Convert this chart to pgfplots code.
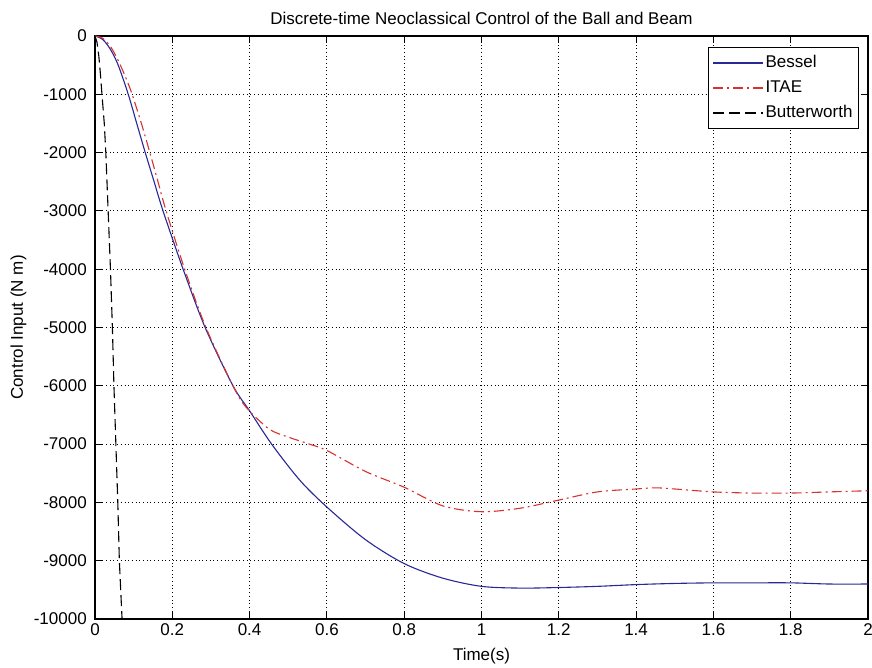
\documentclass[border=0pt]{standalone}
\usepackage{fontspec}
\setmainfont{Liberation Sans}
\usepackage{pgfplots}
\pgfplotsset{compat=1.18}
\definecolor{besselc}{RGB}{40,40,150}
\definecolor{itaec}{RGB}{215,50,50}
\newcommand\ff{\fontsize{8.5}{10}\selectfont}
\begin{document}
\begin{tikzpicture}[font=\ff]
\begin{axis}[
  scale only axis,
  width=386.5pt, height=291.5pt,
  xmin=0, xmax=2, ymin=-10000, ymax=0,
  scaled y ticks=false, scaled x ticks=false,
  xtick={0,0.2,0.4,0.6,0.8,1,1.2,1.4,1.6,1.8,2},
  xticklabels={0,0.2,0.4,0.6,0.8,1,1.2,1.4,1.6,1.8,2},
  ytick={-10000,-9000,-8000,-7000,-6000,-5000,-4000,-3000,-2000,-1000,0},
  yticklabels={-10000,-9000,-8000,-7000,-6000,-5000,-4000,-3000,-2000,-1000,0},
  tick align=inside, tick pos=both,
  major tick length=3.5pt,
  every tick/.style={black, line width=0.5pt},
  axis line style={black, line width=0.6pt},
  grid=major,
  major grid style={black, line width=0.45pt, dash pattern=on 0.45pt off 1.4pt},
  xticklabel style={yshift=1.0pt},
  yticklabel style={xshift=-0.6pt},
  every axis title shift=0pt,
  title={Discrete-time Neoclassical Control of the Ball and Beam},
  title style={at={(axis description cs:0.5,1)}, anchor=base, yshift=5.5pt},
  xlabel={Time(s)},
  xlabel style={at={(axis description cs:0.5,0)}, anchor=base, yshift=-21pt},
  ylabel={Control Input (N m)},
  ylabel style={at={([xshift=-36pt]axis description cs:0,0.5)}, anchor=base, rotate=0},
  legend cell align=left,
  legend style={at={(rel axis cs:1,1)}, anchor=north east, xshift=-4.5pt, yshift=-5.5pt,
    draw=black, line width=0.5pt, fill=white, inner xsep=2pt, inner ysep=2.5pt,
    nodes={inner sep=1pt, text height=6.5pt, text depth=2pt}, row sep=2pt},
  legend image code/.code={\draw[#1] (0pt,0pt) -- (25pt,0pt);},
]
\addplot[besselc, line width=0.55pt, smooth] coordinates {
(0,0) (0.02,-60) (0.04,-230) (0.06,-500) (0.086,-1000) (0.108,-1500) (0.13,-2000)
(0.153,-2500) (0.176,-3000) (0.228,-4000) (0.285,-5000) (0.357,-6000) (0.4,-6430)
(0.457,-7000) (0.53,-7620) (0.6,-8080) (0.7,-8640) (0.8,-9050) (0.9,-9300)
(1.0,-9440) (1.1,-9470) (1.2,-9460) (1.3,-9440) (1.4,-9410) (1.5,-9390)
(1.6,-9380) (1.7,-9380) (1.8,-9380) (1.9,-9400) (2.0,-9400)
};
\addlegendentry{Bessel}
\addplot[itaec, line width=0.55pt, smooth, dash pattern=on 5pt off 2pt on 1pt off 2pt] coordinates {
(0,0) (0.02,-40) (0.04,-180) (0.06,-420) (0.08,-720) (0.096,-1000) (0.12,-1500)
(0.142,-2000) (0.163,-2500) (0.184,-3000) (0.232,-4000) (0.287,-5000) (0.357,-6000)
(0.39,-6360) (0.45,-6740) (0.5,-6880) (0.55,-6990) (0.6,-7110) (0.7,-7470)
(0.8,-7740) (0.9,-8060) (1.0,-8160) (1.1,-8100) (1.2,-7960) (1.3,-7820)
(1.4,-7770) (1.45,-7750) (1.5,-7770) (1.6,-7820) (1.7,-7840) (1.8,-7840)
(1.9,-7820) (2.0,-7800)
};
\addlegendentry{ITAE}
\addplot[black, line width=0.55pt, dash pattern=on 5.5pt off 2.5pt] coordinates {
(0,0) (0.005,-100) (0.01,-350) (0.014,-650) (0.018,-1000) (0.024,-1500) (0.028,-2000)
(0.034,-3000) (0.04,-4000) (0.045,-5000) (0.049,-6000) (0.054,-7000)
(0.059,-8000) (0.063,-9000) (0.07,-10000) (0.075,-11000) (0.08,-12000)
};
\addlegendentry{Butterworth}
\end{axis}
\pgfresetboundingbox
\path[use as bounding box] ([xshift=-47.5pt,yshift=-24.5pt]current axis.south west) rectangle ([xshift=2pt,yshift=18pt]current axis.north east);
\end{tikzpicture}
\end{document}
